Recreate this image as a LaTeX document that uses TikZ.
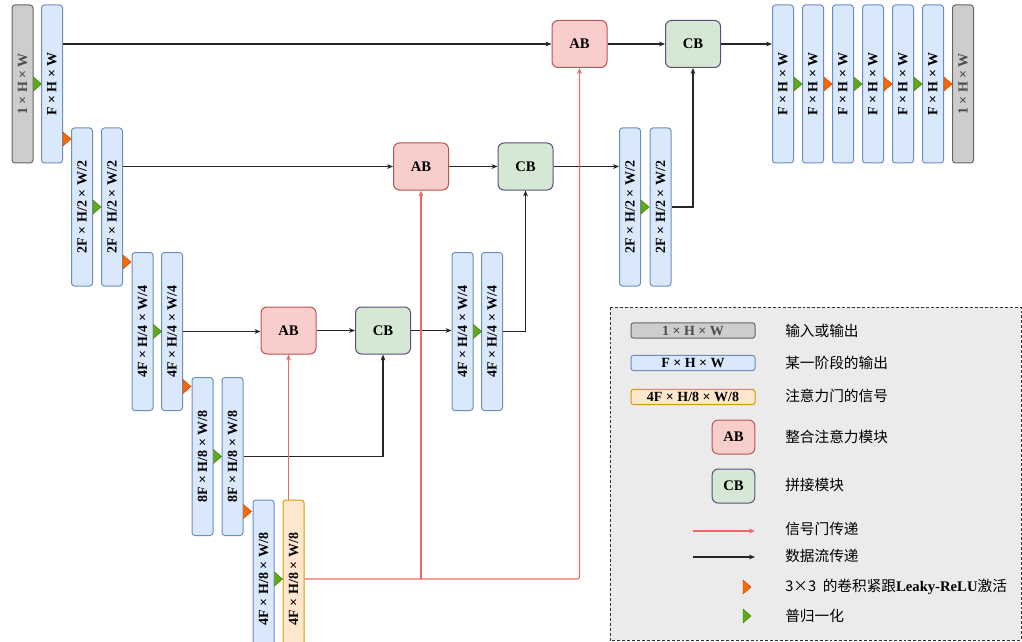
\documentclass[tikz,border=0pt]{standalone}
\usepackage{fontspec}
\setmainfont{Liberation Serif}
\newfontfamily\cjk{Noto Sans CJK SC}
\usetikzlibrary{arrows.meta,calc}

\definecolor{iofill}{HTML}{CDCDCD}
\definecolor{iodraw}{HTML}{666666}
\definecolor{stfill}{HTML}{DAE8FC}
\definecolor{stdraw}{HTML}{6C8EBF}
\definecolor{sgfill}{HTML}{FFE6CC}
\definecolor{sgdraw}{HTML}{D79B00}
\definecolor{abfill}{HTML}{F8CECC}
\definecolor{abdraw}{HTML}{B85450}
\definecolor{cbfill}{HTML}{D5E8D4}
\definecolor{cbdraw}{HTML}{56517E}
\definecolor{convfill}{HTML}{FA6800}
\definecolor{convdraw}{HTML}{C73500}
\definecolor{normfill}{HTML}{60A917}
\definecolor{normdraw}{HTML}{2D7600}
\definecolor{sigred}{HTML}{EA6B66}
\definecolor{legbg}{HTML}{EBEBEB}

\newcommand{\vtxt}[1]{\rotatebox{90}{#1}}
\newcommand{\convtri}[1]{\filldraw[fill=convfill, draw=convdraw, line width=0.3pt] #1 ++(0,-7) -- ++(8,7) -- ++(-8,7) -- cycle;}
\newcommand{\normtri}[1]{\filldraw[fill=normfill, draw=normdraw, line width=0.3pt] #1 ++(0,-7) -- ++(8,7) -- ++(-8,7) -- cycle;}

\begin{document}
\begin{tikzpicture}[x=0.75pt, y=-0.75pt,
    boxfont/.style={font=\fontsize{10.5}{12}\selectfont\bfseries},
    vbox/.style={draw, line width=0.75pt, rounded corners=2.2pt, minimum width=15.75pt, minimum height=118.5pt, inner sep=0pt, boxfont},
    hbox/.style={draw, line width=0.75pt, rounded corners=2pt, minimum width=93pt, minimum height=11.5pt, inner sep=0pt, boxfont},
    blk/.style={draw, line width=0.75pt, rounded corners=4.5pt, minimum width=41.25pt, minimum height=35.25pt, inner sep=0pt, font=\fontsize{11}{13}\selectfont\bfseries},
    iocol/.style={fill=iofill, draw=iodraw, text=black!70},
    stcol/.style={fill=stfill, draw=stdraw},
    sgcol/.style={fill=sgfill, draw=sgdraw},
    abcol/.style={fill=abfill, draw=abdraw},
    cbcol/.style={fill=cbfill, draw=cbdraw},
    dline/.style={draw=black!85, line width=0.8pt, -{Stealth[length=4.5pt,width=3.6pt]}},
    sline/.style={draw=sigred, line width=0.8pt, rounded corners=1.5pt, -{Stealth[length=4.5pt,width=3.6pt]}},
    legtxt/.style={anchor=west, inner sep=0pt, font=\cjk\fontsize{11}{13}\selectfont}
  ]
  \useasboundingbox (0,0) rectangle (1022,642);
  \clip (0,0) rectangle (1022,642);

  % encoder
  \node[vbox,iocol] (in) at (22.5,84) {\vtxt{1 × H × W}};
  \node[vbox,stcol] (e1) at (52,84) {\vtxt{F × H × W}};
  \node[vbox,stcol] (e2a) at (82,207) {\vtxt{2F × H/2 × W/2}};
  \node[vbox,stcol] (e2b) at (112,207) {\vtxt{2F × H/2 × W/2}};
  \node[vbox,stcol] (e3a) at (142.5,331.5) {\vtxt{4F × H/4 × W/4}};
  \node[vbox,stcol] (e3b) at (172,331.5) {\vtxt{4F × H/4 × W/4}};
  \node[vbox,stcol] (e4a) at (202.5,456.5) {\vtxt{8F × H/8 × W/8}};
  \node[vbox,stcol] (e4b) at (232.5,456.5) {\vtxt{8F × H/8 × W/8}};
  \node[vbox,stcol] (e5) at (263.5,579) {\vtxt{4F × H/8 × W/8}};
  \node[vbox,sgcol] (gate) at (293.5,579) {\vtxt{4F × H/8 × W/8}};

  % attention and concat blocks
  \node[blk,abcol] (ab1) at (288.5,330.5) {AB};
  \node[blk,cbcol] (cb1) at (383,330.5) {CB};
  \node[blk,abcol] (ab2) at (421,166.5) {AB};
  \node[blk,cbcol] (cb2) at (525.5,166.5) {CB};
  \node[blk,abcol] (ab3) at (579.5,44) {AB};
  \node[blk,cbcol] (cb3) at (693,44) {CB};

  % decoder
  \node[vbox,stcol] (d1a) at (462.5,331.5) {\vtxt{4F × H/4 × W/4}};
  \node[vbox,stcol] (d1b) at (492,331.5) {\vtxt{4F × H/4 × W/4}};
  \node[vbox,stcol] (d2a) at (630,207) {\vtxt{2F × H/2 × W/2}};
  \node[vbox,stcol] (d2b) at (660.5,207) {\vtxt{2F × H/2 × W/2}};

  % output head
  \foreach \i in {1,...,6}
    \node[vbox,stcol] (o\i) at (753+30*\i,84) {\vtxt{F × H × W}};
  \node[vbox,iocol] (out) at (963,84) {\vtxt{1 × H × W}};

  % data flow
  \draw[dline] (e1.east |- ab3.west) -- (ab3.west);
  \draw[dline] (ab3) -- (cb3);
  \draw[dline] (cb3) -- (o1.west |- cb3);
  \draw[dline] (e2b.east |- ab2.west) -- (ab2.west);
  \draw[dline] (ab2) -- (cb2);
  \draw[dline] (cb2) -- (d2a.west |- cb2);
  \draw[dline] (d2b.east) -| (cb3.south);
  \draw[dline] (e3b.east) -- (ab1.west |- e3b.east);
  \draw[dline] (ab1) -- (cb1);
  \draw[dline] (cb1) -- (d1a.west |- cb1);
  \draw[dline] (d1b.east) -| (cb2.south);
  \draw[dline] (e4b.east) -| (cb1.south);

  % gating signal
  \draw[sline] (ab1.south |- gate.north) -- (ab1.south);
  \draw[sline] (gate.east) -| (ab3.south);
  \draw[sline] (ab2.south |- gate.east) -- (ab2.south);

  % triangles
  \foreach \n in {in,e2a,e3a,e4a,e5,d1a,d2a,o1,o3,o5}
    {\normtri{(\n.east)}}
  \foreach \n in {e1,e2b,e3b,e4b}
    {\convtri{($(\n.east)+(0,55)$)}}
  \foreach \n in {o2,o4,o6}
    {\convtri{(\n.east)}}

  % legend
  \filldraw[fill=legbg, draw=black!80, line width=0.75pt, dash pattern=on 2.2pt off 1.5pt] (610,307) rectangle (1021,640);
  \node[hbox,iocol] (k1) at (693,330.5) {1 × H × W};
  \node[hbox,stcol] (k2) at (693,363) {F × H × W};
  \node[hbox,sgcol] (k3) at (693,397) {4F × H/8 × W/8};
  \node[blk,abcol,minimum width=32pt,minimum height=25.5pt] (k4) at (733.5,437) {AB};
  \node[blk,cbcol,minimum width=32pt,minimum height=25.5pt] (k5) at (733.5,486) {CB};
  \coordinate (k6a) at (693,531);
  \coordinate (k6b) at (755,531);
  \coordinate (k7a) at (693,557);
  \coordinate (k7b) at (755,557);
  \draw[sline] (k6a) -- (k6b);
  \draw[dline] (k7a) -- (k7b);
  \convtri{(743,587)}
  \normtri{(743,616)}

  \node[legtxt] (t1) at (785,331) {输入或输出};
  \node[legtxt] (t2) at (785,363) {某一阶段的输出};
  \node[legtxt] (t3) at (785,396) {注意力门的信号};
  \node[legtxt] (t4) at (785,437) {整合注意力模块};
  \node[legtxt] (t5) at (785,485) {拼接模块};
  \node[legtxt] (t6) at (785,529) {信号门传递};
  \node[legtxt] (t7) at (785,556) {数据流传递};
  \node[legtxt] (t8) at (785,587) {3×3\ \ 的卷积紧跟{\rmfamily\bfseries Leaky-ReLU}激活};
  \node[legtxt] (t9) at (785,616) {普归一化};
\end{tikzpicture}
\end{document}
